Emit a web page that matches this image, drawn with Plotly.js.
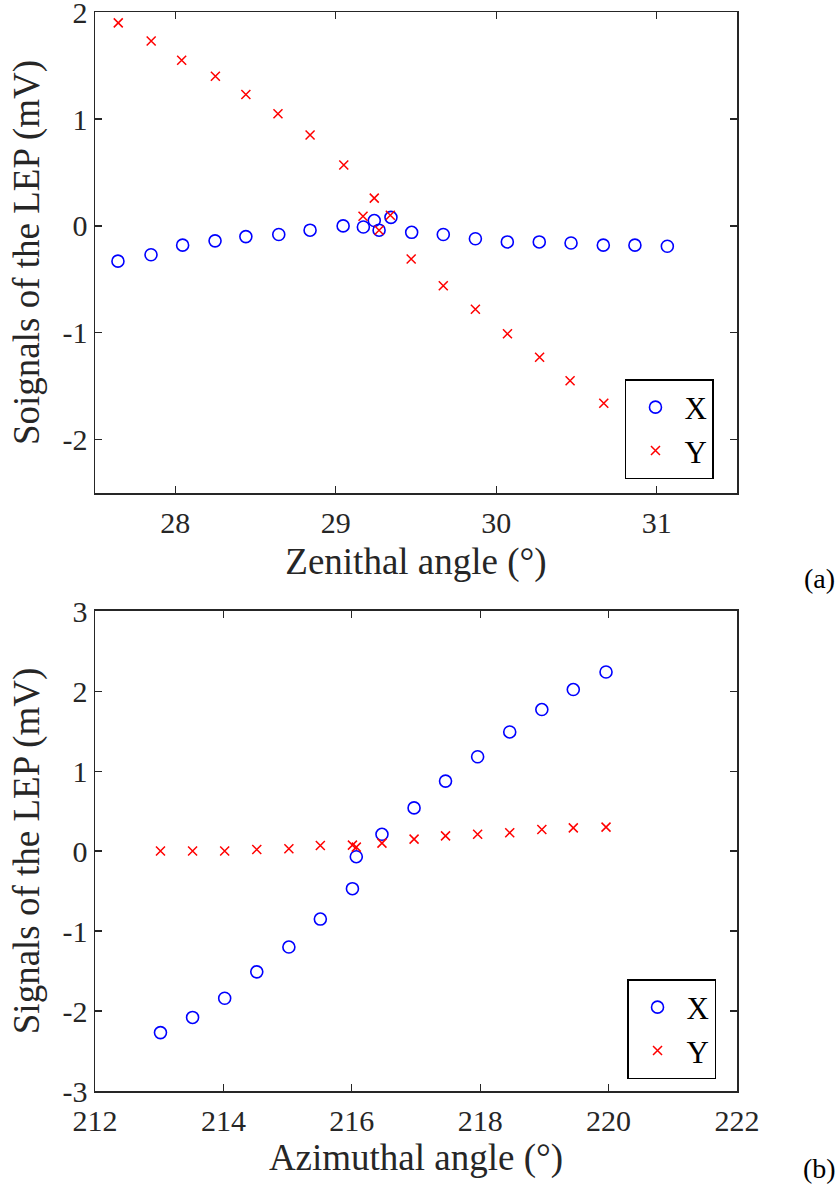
<!DOCTYPE html>
<html>
<head>
<meta charset="utf-8">
<script src="https://cdn.plot.ly/plotly-3.0.1.min.js"></script>
<style>html,body{margin:0;padding:0;background:#fff;}#chart{width:839px;height:1195px;}</style>
</head>
<body>
<div id="chart"></div>
<script>
// ---- Data (a): zenithal sweep ----
const zenAngle = [27.643, 27.849, 28.046, 28.248, 28.44, 28.645, 28.84, 29.046, 29.172, 29.24, 29.27, 29.344, 29.473, 29.67, 29.87, 30.069, 30.268, 30.466, 30.667, 30.864, 31.066];
const zenSignalX = [-0.33, -0.27, -0.18, -0.14, -0.10, -0.08, -0.04, 0.00, -0.01, 0.05, -0.04, 0.08, -0.06, -0.08, -0.12, -0.15, -0.15, -0.16, -0.18, -0.18, -0.19];
const zenAngleY = [27.645, 27.85, 28.04, 28.25, 28.44, 28.64, 28.84, 29.05, 29.17, 29.24, 29.27, 29.34, 29.47, 29.67, 29.87, 30.07, 30.27, 30.46, 30.67];
const zenSignalY = [1.90, 1.73, 1.55, 1.40, 1.23, 1.05, 0.85, 0.57, 0.09, 0.26, -0.04, 0.10, -0.31, -0.56, -0.78, -1.01, -1.23, -1.45, -1.66];

// ---- Data (b): azimuthal sweep ----
const aziAngle = [213.02, 213.52, 214.02, 214.52, 215.02, 215.51, 216.01, 216.07, 216.47, 216.97, 217.46, 217.96, 218.46, 218.96, 219.45, 219.96];
const aziSignalX = [-2.27, -2.08, -1.84, -1.51, -1.20, -0.85, -0.47, -0.07, 0.21, 0.54, 0.875, 1.18, 1.49, 1.77, 2.02, 2.24];
const aziSignalY = [0.00, 0.00, 0.00, 0.02, 0.03, 0.07, 0.075, 0.05, 0.10, 0.15, 0.19, 0.21, 0.23, 0.27, 0.29, 0.30];

// ---- Tick labels ----
const zenXTicks = [28, 29, 30, 31];
const zenYTicks = [-2, -1, 0, 1, 2];
const zenYTickText = ['-2', '-1', '0', '1', '2'];
const aziXTicks = [212, 214, 216, 218, 220, 222];
const aziYTicks = [-3, -2, -1, 0, 1, 2, 3];
const aziYTickText = ['-3', '-2', '-1', '0', '1', '2', '3'];

const FONT = "'Liberation Serif', 'Times New Roman', serif";
const AX = '#262626';
const blueMarker = {symbol: 'circle-open', size: 12, color: '#0000ff', line: {width: 1.6, color: '#0000ff'}};
const redMarker = {symbol: 'x-thin', size: 9, color: '#ff0000', line: {width: 1.5, color: '#ff0000'}};

const traces = [
  {x: zenAngle, y: zenSignalX, name: 'X', type: 'scatter', mode: 'markers', marker: blueMarker, xaxis: 'x', yaxis: 'y', legend: 'legend'},
  {x: zenAngleY, y: zenSignalY, name: 'Y', type: 'scatter', mode: 'markers', marker: redMarker, xaxis: 'x', yaxis: 'y', legend: 'legend'},
  {x: aziAngle, y: aziSignalX, name: 'X', type: 'scatter', mode: 'markers', marker: blueMarker, xaxis: 'x2', yaxis: 'y2', legend: 'legend2'},
  {x: aziAngle, y: aziSignalY, name: 'Y', type: 'scatter', mode: 'markers', marker: redMarker, xaxis: 'x2', yaxis: 'y2', legend: 'legend2'}
];

function axisBase() {
  return {
    showline: true, linecolor: AX, linewidth: 1.5, mirror: 'ticks',
    ticks: 'inside', ticklen: 7, tickwidth: 1.2, tickcolor: AX,
    showgrid: false, zeroline: false,
    tickfont: {family: FONT, size: 30, color: AX},
    ticklabeloverflow: 'allow',
    automargin: false, fixedrange: true
  };
}

const legendStyle = {
  font: {family: FONT, size: 31, color: '#000'},
  bgcolor: '#ffffff', bordercolor: '#000000', borderwidth: 1.5,
  itemwidth: 48, tracegroupgap: 0, xanchor: 'left', yanchor: 'middle'
};

const layout = {
  width: 839, height: 1195,
  margin: {l: 95, r: 102, t: 12, b: 104},
  paper_bgcolor: '#ffffff', plot_bgcolor: '#ffffff',
  showlegend: true,
  xaxis: Object.assign(axisBase(), {
    domain: [0, 1], anchor: 'y', range: [27.5, 31.5],
    tickvals: zenXTicks, ticktext: zenXTicks.map(String), ticklabelstandoff: 2,
    title: {text: 'Zenithal angle (°)', font: {family: FONT, size: 37, color: AX}, standoff: 10}
  }),
  yaxis: Object.assign(axisBase(), {
    domain: [0.5542, 1], anchor: 'x', range: [-2.5, 2.002],
    tickvals: zenYTicks, ticktext: zenYTickText,
    title: {text: 'Soignals of the LEP (mV)', font: {family: FONT, size: 37, color: AX}, standoff: 11}
  }),
  xaxis2: Object.assign(axisBase(), {
    domain: [0, 1], anchor: 'y2', range: [212, 222],
    tickvals: aziXTicks, ticktext: aziXTicks.map(String), ticklabelstandoff: 2,
    title: {text: 'Azimuthal angle (°)', font: {family: FONT, size: 37, color: AX}, standoff: 8}
  }),
  yaxis2: Object.assign(axisBase(), {
    domain: [0, 0.4449], anchor: 'x2', range: [-3, 3.003],
    tickvals: aziYTicks, ticktext: aziYTickText,
    title: {text: 'Signals of the LEP (mV)', font: {family: FONT, size: 37, color: AX}, standoff: 11}
  }),
  legend: Object.assign({}, legendStyle, {x: 0.8255, y: 1 - (429 - 12) / 1079}),
  legend2: Object.assign({}, legendStyle, {x: 0.8287, y: 1 - (1029 - 12) / 1079}),
  annotations: [
    {text: '(a)', xref: 'paper', yref: 'paper', x: 1.128, y: 0.4754, xanchor: 'center', yanchor: 'middle', showarrow: false, font: {family: FONT, size: 28, color: '#000'}},
    {text: '(b)', xref: 'paper', yref: 'paper', x: 1.128, y: -0.0714, xanchor: 'center', yanchor: 'middle', showarrow: false, font: {family: FONT, size: 28, color: '#000'}}
  ]
};

Plotly.newPlot('chart', traces, layout, {displayModeBar: false, staticPlot: true});
</script>
</body>
</html>
